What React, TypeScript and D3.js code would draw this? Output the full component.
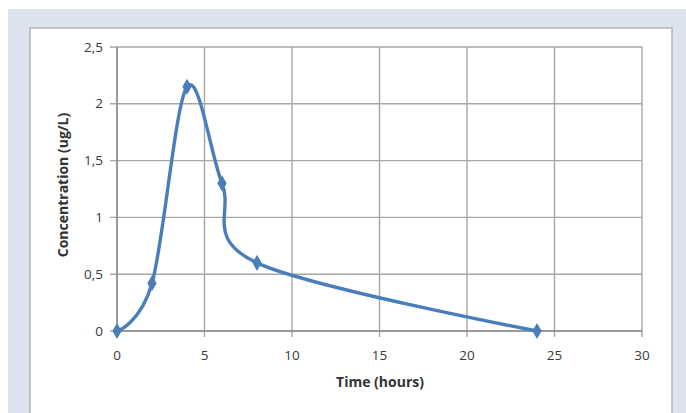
import React from "react";
import * as d3 from "d3";

const timeHours = [0, 2, 4, 6, 8, 24];
const concentration = [0, 0.42, 2.15, 1.3, 0.6, 0];
const xTicks = [0, 5, 10, 15, 20, 25, 30];
const yTicks = [0, 0.5, 1, 1.5, 2, 2.5];
const xTitle = "Time (hours)";
const yTitle = "Concentration (ug/L)";

const W = 686;
const H = 413;
const plot = { left: 117, right: 642, top: 47, bottom: 331 };
const font = "'Open Sans', Lato, 'DejaVu Sans', sans-serif";
const blue = "#4a7ebb";
const grid = "#a6a6a6";

export default function App() {
  const x = d3.scaleLinear().domain([0, 30]).range([plot.left, plot.right]);
  const y = d3.scaleLinear().domain([0, 2.5]).range([plot.bottom, plot.top]);
  const pts: [number, number][] = timeHours.map((t, i) => [t, concentration[i]]);
  const line = d3
    .line<[number, number]>()
    .x((d) => x(d[0]))
    .y((d) => y(d[1]))
    .curve(d3.curveCardinal.tension(0));
  const diamond = d3.symbol().type(d3.symbolDiamond).size(75)();
  const fmt = (v: number) => String(v).replace(".", ",");

  return (
    <svg
      width={W}
      height={H}
      style={{ position: "absolute", left: 0, top: 0, display: "block" }}
    >
      <rect x={0} y={0} width={W} height={H} fill="#ffffff" />
      <rect x={8} y={9} width={W - 8} height={H - 9} fill="#dde2ef" />
      <rect x={30} y={28} width={642} height={H} fill="#ffffff" stroke="#b4b4b4" strokeWidth={1.5} />

      {xTicks.map((t) => (
        <line
          key={"gx" + t}
          x1={x(t)}
          x2={x(t)}
          y1={plot.top}
          y2={plot.bottom + 6}
          stroke={grid}
          strokeWidth={1.4}
        />
      ))}
      {yTicks.map((t) => (
        <line
          key={"gy" + t}
          x1={plot.left - 7}
          x2={plot.right}
          y1={y(t)}
          y2={y(t)}
          stroke={grid}
          strokeWidth={1.4}
        />
      ))}
      <line x1={plot.left} x2={plot.left} y1={plot.top} y2={plot.bottom} stroke="#8c8c8c" strokeWidth={1.5} />
      <line x1={plot.left} x2={plot.right} y1={plot.bottom} y2={plot.bottom} stroke="#8c8c8c" strokeWidth={1.5} />

      {yTicks.map((t) => (
        <text
          key={"ty" + t}
          x={103}
          y={y(t) + 4.5}
          textAnchor="end"
          fontFamily={font}
          fontSize={13.5}
          fill="#3a3a3a"
        >
          {fmt(t)}
        </text>
      ))}
      {xTicks.map((t) => (
        <text
          key={"tx" + t}
          x={x(t)}
          y={360}
          textAnchor="middle"
          fontFamily={font}
          fontSize={13.5}
          fill="#3a3a3a"
        >
          {fmt(t)}
        </text>
      ))}
      <text
        x={380}
        y={387}
        textAnchor="middle"
        fontFamily={font}
        fontSize={14}
        fontWeight="bold"
        fill="#333"
      >
        {xTitle}
      </text>
      <text
        transform={`translate(68,185) rotate(-90)`}
        textAnchor="middle"
        fontFamily={font}
        fontSize={14}
        fontWeight="bold"
        fill="#333"
      >
        {yTitle}
      </text>

      <path d={line(pts) || ""} fill="none" stroke={blue} strokeWidth={3.4} strokeLinejoin="round" />
      {pts.map((d, i) => (
        <path key={"m" + i} d={diamond || ""} transform={`translate(${x(d[0])},${y(d[1])})`} fill={blue} />
      ))}
    </svg>
  );
}
